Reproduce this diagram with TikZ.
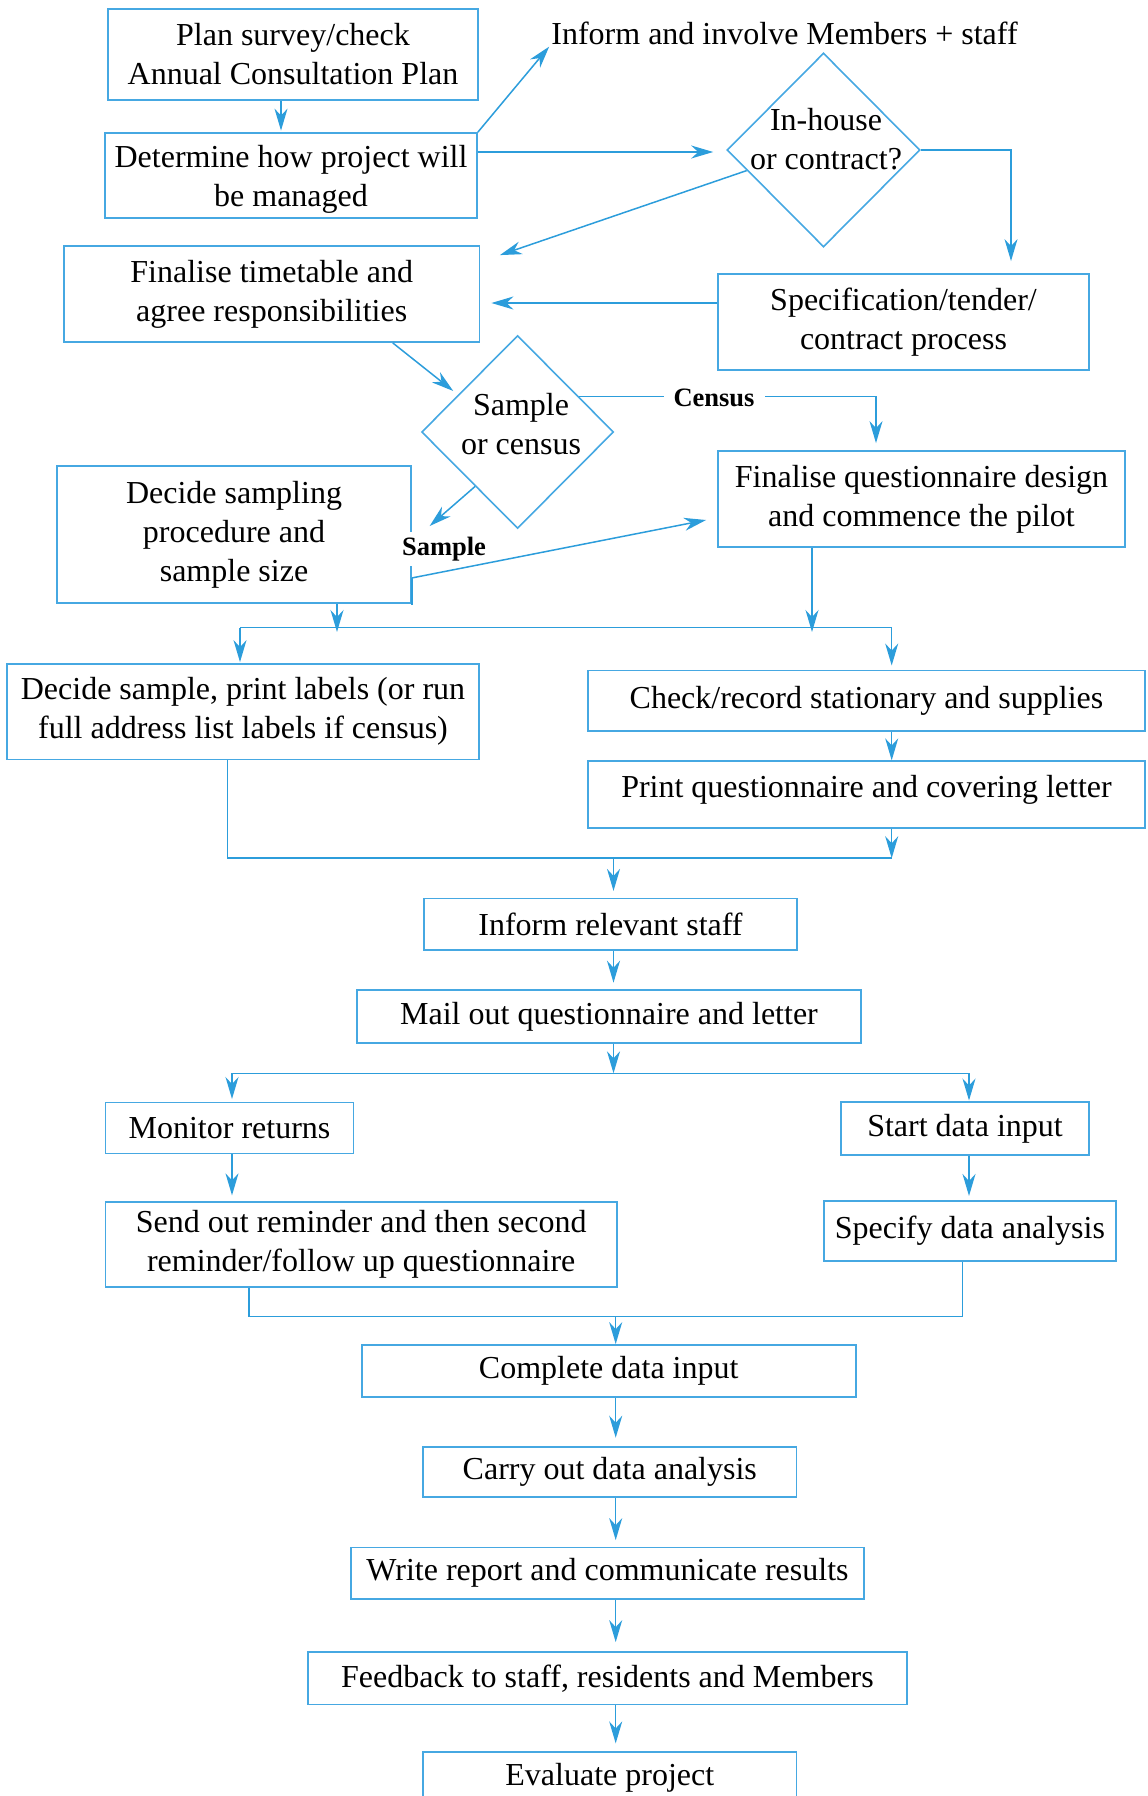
\documentclass[tikz,border=0pt]{standalone}
\usepackage{fontspec}
\setmainfont{Liberation Serif}
\usetikzlibrary{arrows.meta,shapes.geometric}
\definecolor{lc}{RGB}{44,157,219}
\definecolor{bc}{RGB}{70,168,226}
\begin{document}
\begin{tikzpicture}[x=1pt,y=-1pt,
  box/.style={draw=bc, line width=1.8pt, align=center, inner sep=0pt,
              font=\fontsize{32}{39}\selectfont},
  txt/.style={align=center, inner sep=2pt, font=\fontsize{32}{39}\selectfont},
  dia/.style={draw=bc, line width=1.6pt, diamond, inner sep=0pt},
  lbl/.style={fill=white, inner sep=2pt, font=\fontsize{26.5}{30}\selectfont\bfseries},
  ln/.style={draw=lc, line width=1.5pt},
  arr/.style={ln, -{Stealth[length=22pt, width=13pt, inset=7pt]}}]
\useasboundingbox (0,0) rectangle (1148,1796);

% ---- nodes ----
\node[box, minimum width=370pt, minimum height=91pt] (plan) at (293,54.5) {Plan survey/check\\Annual Consultation Plan};
\node[box, minimum width=372pt, minimum height=85pt] (det) at (291,175.5) {};
\node[txt] (dett) at (291,179) {Determine how project will\\be managed};
\node[txt] (inform) at (784.5,33) {Inform and involve Members + staff};
\node[dia, minimum width=193pt, minimum height=194pt] (d1) at (823.5,150) {};
\node[txt] (d1t) at (826,139) {In-house\\or contract?};
\node[box, minimum width=415.5pt, minimum height=96pt] (ft) at (271.75,294) {Finalise timetable and\\agree responsibilities};
\node[box, minimum width=371pt, minimum height=96pt] (spec) at (903.5,322) {Specification/tender/\\contract process};
\node[dia, minimum width=192pt, minimum height=193pt] (d2) at (517.6,432) {};
\node[txt] (d2t) at (521,424) {Sample\\or census};
\node[box, minimum width=407pt, minimum height=96pt] (fq) at (921.5,499) {Finalise questionnaire design\\and commence the pilot};
\node[box, minimum width=354.5pt, minimum height=137pt] (ds) at (234,534.5) {Decide sampling\\procedure and\\sample size};
\node[box, minimum width=472.5pt, minimum height=95.4pt] (dsl) at (243,711.7) {Decide sample, print labels (or run\\full address list labels if census)};
\node[box, minimum width=557pt, minimum height=60.6pt] (chk) at (866.5,700.7) {Check/record stationary and supplies};
\node[box, minimum width=557pt, minimum height=66.5pt, text depth=16pt] (prt) at (866.5,794.5) {Print questionnaire and covering letter};
\node[box, minimum width=373pt, minimum height=51.8pt] (irs) at (610.5,924.4) {Inform relevant staff};
\node[box, minimum width=504pt, minimum height=53pt] (mail) at (609,1016.5) {Mail out questionnaire and letter};
\node[box, minimum width=248pt, minimum height=51pt] (mon) at (229.5,1128) {Monitor returns};
\node[box, minimum width=248pt, minimum height=53pt] (start) at (965,1128.4) {Start data input};
\node[box, minimum width=511.6pt, minimum height=84.7pt] (send) at (361.2,1244.6) {Send out reminder and then second\\reminder/follow up questionnaire};
\node[box, minimum width=291.7pt, minimum height=59.3pt] (spec2) at (969.9,1231) {Specify data analysis};
\node[box, minimum width=494pt, minimum height=52pt] (comp) at (608.7,1371) {Complete data input};
\node[box, minimum width=373.5pt, minimum height=49.4pt] (carry) at (609.8,1472) {Carry out data analysis};
\node[box, minimum width=513pt, minimum height=51.6pt] (write) at (607.5,1573.2) {Write report and communicate results};
\node[box, minimum width=599pt, minimum height=52.4pt] (feed) at (607.5,1678.2) {Feedback to staff, residents and Members};
\node[box, minimum width=373.5pt, minimum height=52pt] (eval) at (609.8,1777.9) {Evaluate project};

% ---- helper coordinates ----
\coordinate (colA) at (281,0);
\coordinate (rowA) at (0,152);
\coordinate (colB) at (1011,0);
\coordinate (rowB) at (0,303);
\coordinate (colC) at (876,0);
\coordinate (bus1) at (0,627.7);
\coordinate (bus1a) at (0,632);
\coordinate (colD) at (337,0);
\coordinate (colE) at (812,0);
\coordinate (colF) at (240,0);
\coordinate (colG) at (891.7,0);
\coordinate (bus2) at (0,858.2);
\coordinate (colH) at (227.7,0);
\coordinate (colI) at (613.5,0);
\coordinate (bus3) at (0,1073.3);
\coordinate (colJ) at (232,0);
\coordinate (colK) at (969,0);
\coordinate (bus4) at (0,1316.3);
\coordinate (colM) at (249,0);
\coordinate (colN) at (962.7,0);
\coordinate (colO) at (615.7,0);

% ---- connectors ----
\draw[arr, shorten >=1.5pt] (colA |- plan.south) -- (colA |- det.north);
\draw[arr] (det.north east) -- (inform.south west);
\draw[arr, shorten >=13pt] (rowA -| det.east) -- (rowA -| d1.west);
\draw[arr, shorten >=12pt] (d1.east) -| (colB |- spec.north);
\draw[arr] (d1.195) -- ([shift={(19.5,10)}]ft.north east);
\draw[arr, shorten >=11pt] (rowB -| spec.west) -- (rowB -| ft.east);
\draw[arr, shorten >=6pt] ([xshift=121pt]ft.south) -- (d2.148);
\draw[arr, shorten >=7pt] (d2.30) -| (colC |- fq.north);
\node[lbl, inner xsep=10pt] (census) at (714,398) {Census};
\draw[arr] (d2.232) -- ([shift={(17.5,-8.5)}]ds.east);
\node[lbl, inner ysep=5pt] (samplelbl) at (444,549) {Sample};
\draw[ln] ([yshift=26pt]ds.south east) -- ([yshift=-1pt]ds.south east);
\draw[arr] ([yshift=26pt]ds.south east) -- ([shift={(-11,21)}]fq.west);

\draw[arr] (colD |- ds.south) -- (colD |- bus1a);
\draw[arr] (colE |- fq.south) -- (colE |- bus1a);
\draw[arr, shorten >=1pt] (colF |- bus1) -- (colF |- dsl.north);
\draw[arr, shorten >=4pt] (colF |- bus1) -- (colG |- bus1) -- (colG |- chk.north);
\draw[arr] (colG |- chk.south) -- (colG |- prt.north);
\draw[ln] (colH |- dsl.south) |- (colG |- bus2);
\draw[arr] (colG |- prt.south) -- (colG |- bus2);
\draw[arr, shorten >=6.7pt] (colI |- bus2) -- (colI |- irs.north);
\draw[arr, shorten >=6.4pt] (colI |- irs.south) -- (colI |- mail.north);
\draw[arr] (colI |- mail.south) -- (colI |- bus3);
\draw[arr, shorten >=2.6pt] (colJ |- bus3) -- (colJ |- mon.north);
\draw[arr, shorten >=0.5pt] (colJ |- bus3) -- (colK |- bus3) -- (colK |- start.north);
\draw[arr, shorten >=6pt] (colJ |- mon.south) -- (colJ |- send.north);
\draw[arr, shorten >=4.5pt] (colK |- start.south) -- (colK |- spec2.north);
\draw[ln] (colM |- send.south) |- (colN |- bus4) -- (colN |- spec2.south);
\draw[arr] (colO |- bus4) -- (colO |- comp.north);
\draw[arr, shorten >=8.7pt] (colO |- comp.south) -- (colO |- carry.north);
\draw[arr, shorten >=6.4pt] (colO |- carry.south) -- (colO |- write.north);
\draw[arr, shorten >=9pt] (colO |- write.south) -- (colO |- feed.north);
\draw[arr, shorten >=7.6pt] (colO |- feed.south) -- (colO |- eval.north);
\end{tikzpicture}
\end{document}
